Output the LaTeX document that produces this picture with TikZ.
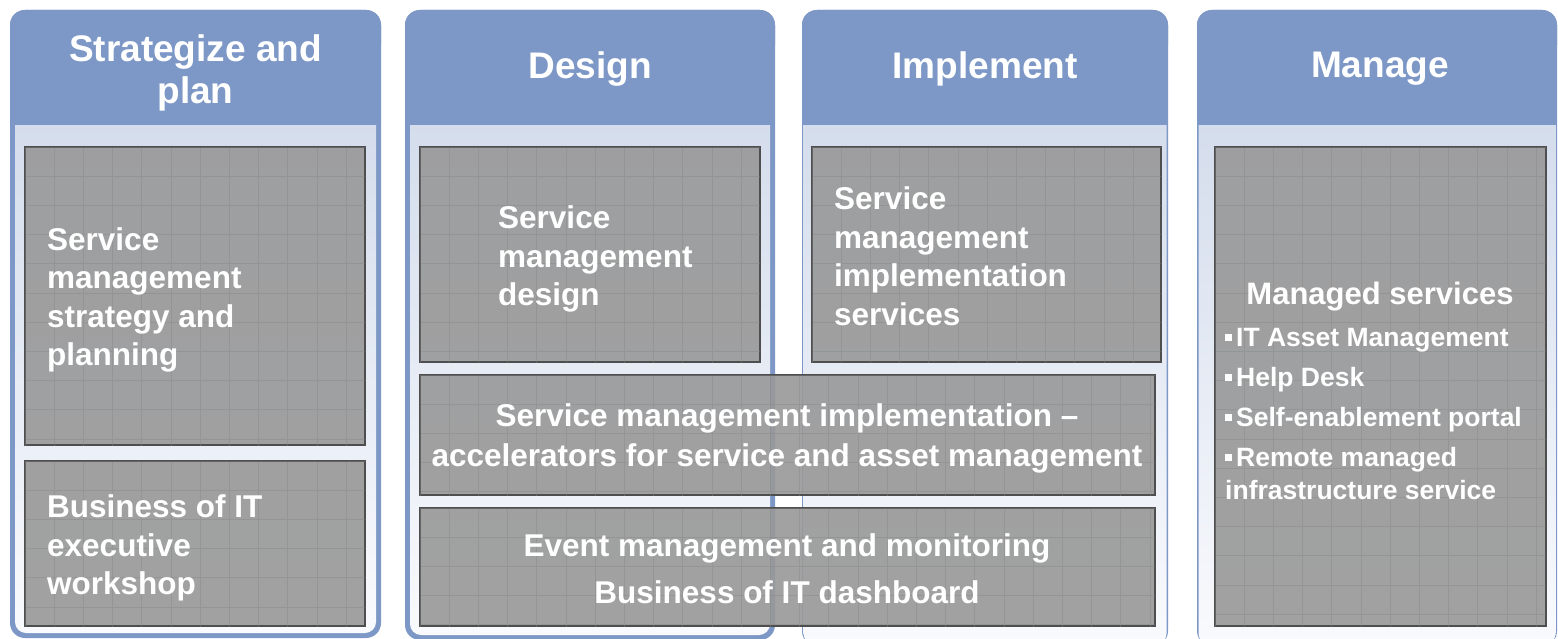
\documentclass[tikz,border=0pt]{standalone}
\usepackage{fontspec}
\setmainfont{Liberation Sans}
\definecolor{hdrblue}{HTML}{7D98C6}
\definecolor{bodytop}{HTML}{D3DCEC}
\definecolor{bodybot}{HTML}{F9FAFD}
\definecolor{boxfill}{HTML}{989898}
\definecolor{boxline}{HTML}{4E4E4E}
\definecolor{gridc}{HTML}{858585}
\tikzset{
  graybox/.style={draw=boxline, line width=1.4pt, fill=boxfill, fill opacity=0.9,
    anchor=north west, inner sep=0pt, outer sep=0pt},
  gridline/.style={draw=gridc, line width=0.8pt, opacity=0.4},
  hdrtext/.style={text=white, inner sep=0pt, align=center,
    font=\fontsize{37}{42}\selectfont\bfseries},
  bodytext/.style={text=white, inner sep=0pt, align=left,
    font=\fontsize{31.5}{38.5}\selectfont\bfseries},
  widetext/.style={text=white, inner sep=0pt, align=center,
    font=\fontsize{31.5}{40}\selectfont\bfseries},
  listtext/.style={text=white, inner sep=0pt, align=left,
    font=\fontsize{26.5}{33}\selectfont\bfseries},
}
\newcommand\mypanel[4]{%
  \fill[hdrblue, rounded corners=15pt] (#1,10) rectangle (#2,#3);
  \shade[top color=bodytop, bottom color=bodybot, rounded corners=11pt]
    (#1+#4,105) rectangle (#2-#4,#3-#4);
  \fill[hdrblue, rounded corners=15pt] (#1,10) rectangle (#2,60);
  \fill[hdrblue] (#1,40) rectangle (#2,125);
}
\newcommand\boxgrid[1]{%
  \begin{scope}
    \clip (#1.north west) rectangle (#1.south east);
    \begin{scope}[shift={(#1.north west)}]
      \draw[gridline, step=29.2pt] (0pt,0pt) grid (760pt,-500pt);
    \end{scope}
  \end{scope}
}
\newcommand\bul{\rule[0.22em]{7pt}{7pt}\hspace{4pt}}
\begin{document}
\begin{tikzpicture}[x=1pt, y=-1pt]
\useasboundingbox (0,0) rectangle (1558,639);
\clip (0,0) rectangle (1558,639);
\fill[white] (0,0) rectangle (1558,639);

% panels
\mypanel{10}{381}{638}{5}
\mypanel{405}{775}{640}{5}
\mypanel{802}{1168}{646}{1.5}
\mypanel{1197}{1557}{646}{1.5}

% headers
\node[hdrtext] (h1) at (195.5,73) {Strategize and\\plan};
\node[hdrtext] (h2) at (590,69) {Design};
\node[hdrtext] (h3) at (985,69) {Implement};
\node[hdrtext] (h4) at (1380,69) {Manage};

% gray boxes
\node[graybox, minimum width=340pt, minimum height=298pt] (b1) at (25,147) {};
\boxgrid{b1}
\node[graybox, minimum width=340pt, minimum height=165pt] (b2) at (25,461) {};
\boxgrid{b2}
\node[graybox, minimum width=340pt, minimum height=215pt] (b3) at (420,147) {};
\boxgrid{b3}
\node[graybox, minimum width=349pt, minimum height=215pt] (b4) at (812,147) {};
\boxgrid{b4}
\node[graybox, minimum width=735pt, minimum height=120pt] (b5) at (420,375) {};
\boxgrid{b5}
\node[graybox, minimum width=735pt, minimum height=118pt] (b6) at (420,508) {};
\boxgrid{b6}
\node[graybox, minimum width=331pt, minimum height=479pt] (b7) at (1215,147) {};
\boxgrid{b7}

% texts
\node[bodytext, anchor=west] (t1) at (47,300) {Service\\management\\strategy and\\planning};
\node[bodytext, anchor=west] (t2) at (47,548) {Business of IT\\executive\\workshop};
\node[bodytext, anchor=west] (t3) at (498,259) {Service\\management\\design};
\node[bodytext, anchor=west] (t4) at (834,256) {Service\\management\\implementation\\services};
\node[widetext] (t5) at (787,438) {Service management implementation --\\accelerators for service and asset management};
\node[widetext] (t6) at (787,569) {Event management and monitoring\\[7pt]Business of IT dashboard};
\node[text=white, inner sep=0pt, font=\fontsize{31}{36}\selectfont\bfseries] (t7) at (1380,297) {Managed services};
\node[listtext, anchor=west] (t8) at (1225,414) {\bul IT Asset Management\\[7pt]\bul Help Desk\\[7pt]\bul Self-enablement portal\\[7pt]\bul Remote managed\\infrastructure service};
\end{tikzpicture}
\end{document}
